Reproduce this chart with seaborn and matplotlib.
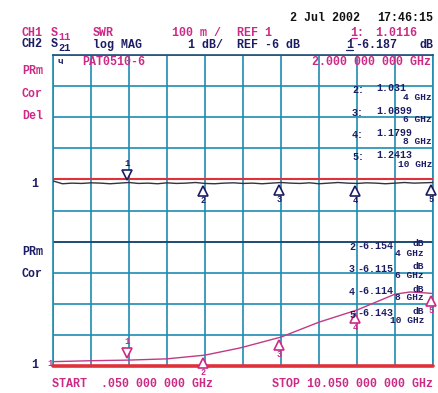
import matplotlib
matplotlib.use("Agg")
import matplotlib.pyplot as plt
import seaborn as sns
import pandas as pd

# ---- data -----------------------------------------------------------------
# Channel 1 (S11, SWR) trace in screen divisions (0 = bottom, 10 = top)
ch1_freq = [0.05 + 0.25 * i for i in range(41)]
ch1_div = [5.95, 5.86, 5.88, 5.87, 5.89, 5.88, 5.86, 5.88, 5.90, 5.87,
           5.88, 5.86, 5.89, 5.87, 5.88, 5.90, 5.87, 5.86, 5.88, 5.89,
           5.87, 5.88, 5.86, 5.88, 5.90, 5.88, 5.87, 5.89, 5.86, 5.88,
           5.90, 5.88, 5.87, 5.89, 5.88, 5.86, 5.88, 5.90, 5.88, 5.89, 5.90]

# Channel 2 (S21, log MAG) trace in screen divisions
ch2_freq = [0.05, 1.05, 2.05, 3.05, 4.05, 4.97, 6.05, 7.05, 8.05, 9.05, 9.45, 9.85, 10.05]
ch2_div = [0.14, 0.17, 0.19, 0.23, 0.35, 0.58, 0.93, 1.41, 1.80, 2.31, 2.38, 2.35, 2.33]

# markers
marker_freq = [2.0, 4.0, 6.0, 8.0, 10.0]
marker_ghz = ["2", "4", "6", "8", "10"]
ch1_readout = ["1.0116", "1.031", "1.0899", "1.1799", "1.2413"]
ch2_readout = ["-6.187", "-6.154", "-6.115", "-6.114", "-6.143"]

f_start, f_stop = 0.05, 10.05
ch1_ref_div = 6
ch2_ref_div = 0

# ---- style ----------------------------------------------------------------
sns.set_style("white")
plt.rcParams["font.family"] = ["Liberation Mono", "DejaVu Sans Mono", "DejaVu Sans"]
plt.rcParams["font.weight"] = "bold"

MAG = "#cc2a86"
NAVY = "#1c1c64"
GRID = "#1f8bb0"
RED = "#e0303a"
FS = 8.4
FS_RD = 7.2
FS_SM = 6.8

W, H = 438, 393
fig = plt.figure(figsize=(W / 100, H / 100), dpi=100)
L, R, T, B = 53, 433, 55, 366
ax = fig.add_axes([L / W, 1 - B / H, (R - L) / W, (B - T) / H])

# graticule
ax.set_xlim(f_start, f_stop)
ax.set_ylim(0, 10)
ax.set_xticks([f_start + k for k in range(11)])
ax.set_yticks(range(11))
ax.tick_params(length=0, labelbottom=False, labelleft=False)
ax.grid(True, color=GRID, linewidth=1.2)
for s in ax.spines.values():
    s.set_color(GRID)
    s.set_linewidth(1.2)
ax.spines["top"].set_color("#1d4f78")
ax.axhline(4, color="#1d3f6a", lw=1.2)

# reference lines
ax.axhline(ch1_ref_div, color=RED, lw=1.5, zorder=3)
ax.axhline(ch2_ref_div, color=RED, lw=2.6, zorder=3, clip_on=False)

# traces
df1 = pd.DataFrame({"f": ch1_freq, "v": ch1_div})
df2 = pd.DataFrame({"f": ch2_freq, "v": ch2_div})
sns.lineplot(data=df1, x="f", y="v", ax=ax, color="#33333f", lw=1.0, zorder=4)
sns.lineplot(data=df2, x="f", y="v", ax=ax, color="#c03a86", lw=1.0, zorder=4)
ax.set_xlabel("")
ax.set_ylabel("")


def interp(xs, ys, x):
    for i in range(len(xs) - 1):
        if xs[i] <= x <= xs[i + 1]:
            t = (x - xs[i]) / (xs[i + 1] - xs[i])
            return ys[i] + t * (ys[i + 1] - ys[i])
    return ys[-1]


def draw_markers(xs, ys, color):
    for i, f in enumerate(marker_freq):
        y = interp(xs, ys, f)
        if i == 0:
            ax.plot(f, y + 0.24, marker="v", ms=7, mfc="white", mec=color,
                    mew=1.2, zorder=6, clip_on=False)
            ax.text(f, y + 0.6, "1", color=color, fontsize=6.5, ha="center",
                    va="center", zorder=6)
        else:
            ax.plot(f, y - 0.24, marker="^", ms=7, mfc="white", mec=color,
                    mew=1.2, zorder=6, clip_on=False)
            ax.text(f, y - 0.54, str(i + 1), color=color, fontsize=6.2,
                    ha="center", va="center", zorder=6, clip_on=False)


draw_markers(ch1_freq, ch1_div, NAVY)
draw_markers(ch2_freq, ch2_div, MAG)


def txt(x, y, s, color=NAVY, ha="left", size=FS):
    fig.text(x / W, 1 - y / H, s, color=color, ha=ha, va="center", fontsize=size)


def uline(x0, x1, y, color):
    fig.add_artist(plt.Line2D([x0 / W, x1 / W], [1 - y / H, 1 - y / H],
                              color=color, lw=0.9, transform=fig.transFigure))


# header
txt(290, 18, "2 Jul 2002", "#111111")
txt(433, 18, "17:46:15", "#111111", ha="right")
txt(22, 33, "CH1", MAG)
txt(51, 33, "S", MAG)
txt(58, 37, "11", MAG, size=7.5)
txt(93, 33, "SWR", MAG)
txt(172, 33, "100 m /", MAG)
txt(237, 33, "REF 1", MAG)
txt(350, 33, "1:", MAG)
uline(351, 357, 38, MAG)
txt(375, 33, ch1_readout[0], MAG)
txt(22, 44, "CH2", NAVY)
txt(51, 44, "S", NAVY)
txt(58, 48, "21", NAVY, size=7.5)
txt(93, 45, "log MAG", NAVY)
txt(188, 45, "1 dB/", NAVY)
txt(237, 45, "REF -6 dB", NAVY)
txt(346, 45, "1", NAVY)
uline(346, 353, 50, NAVY)
txt(355, 45, ch2_readout[0], NAVY)
txt(433, 45, "dB", NAVY, ha="right")

# inside the graticule
txt(57, 61, "ч", NAVY, size=6.5)
txt(82, 62, "PAT0510-6", MAG)
txt(431, 62, "2.000 000 000 GHz", MAG, ha="right")

# left annotations
txt(22, 71, "PRm", MAG)
txt(22, 94, "Cor", MAG)
txt(22, 116, "Del", MAG)
txt(31, 184, "1", NAVY)
txt(22, 252, "PRm", NAVY)
txt(22, 274, "Cor", NAVY)
txt(31, 365, "1", NAVY)
txt(47, 363, "1", MAG, size=6.5)

# marker readouts, channel 1
for k in range(1, 5):
    y = 90 + (k - 1) * 22.5
    txt(352, y, f"{k + 1}:", NAVY, size=FS_RD)
    txt(376, y - 2, ch1_readout[k], NAVY, size=FS_RD)
    txt(432, y + 7, f"{marker_ghz[k]} GHz", NAVY, ha="right", size=FS_SM)

# marker readouts, channel 2
for k in range(1, 5):
    y = 247 + (k - 1) * 22.5
    txt(349, y, str(k + 1), NAVY, size=FS_RD)
    txt(357, y - 1, ch2_readout[k], NAVY, size=FS_RD)
    txt(424, y - 3, "dB", NAVY, ha="right", size=FS_SM)
    txt(424, y + 6, f"{marker_ghz[k]} GHz", NAVY, ha="right", size=FS_SM)

# sweep limits
txt(52, 384, "START  .050 000 000 GHz", MAG)
txt(433, 384, f"STOP {f_stop:.3f} 000 000 GHz", MAG, ha="right")

fig.savefig("out.png", dpi=100, facecolor="white")
